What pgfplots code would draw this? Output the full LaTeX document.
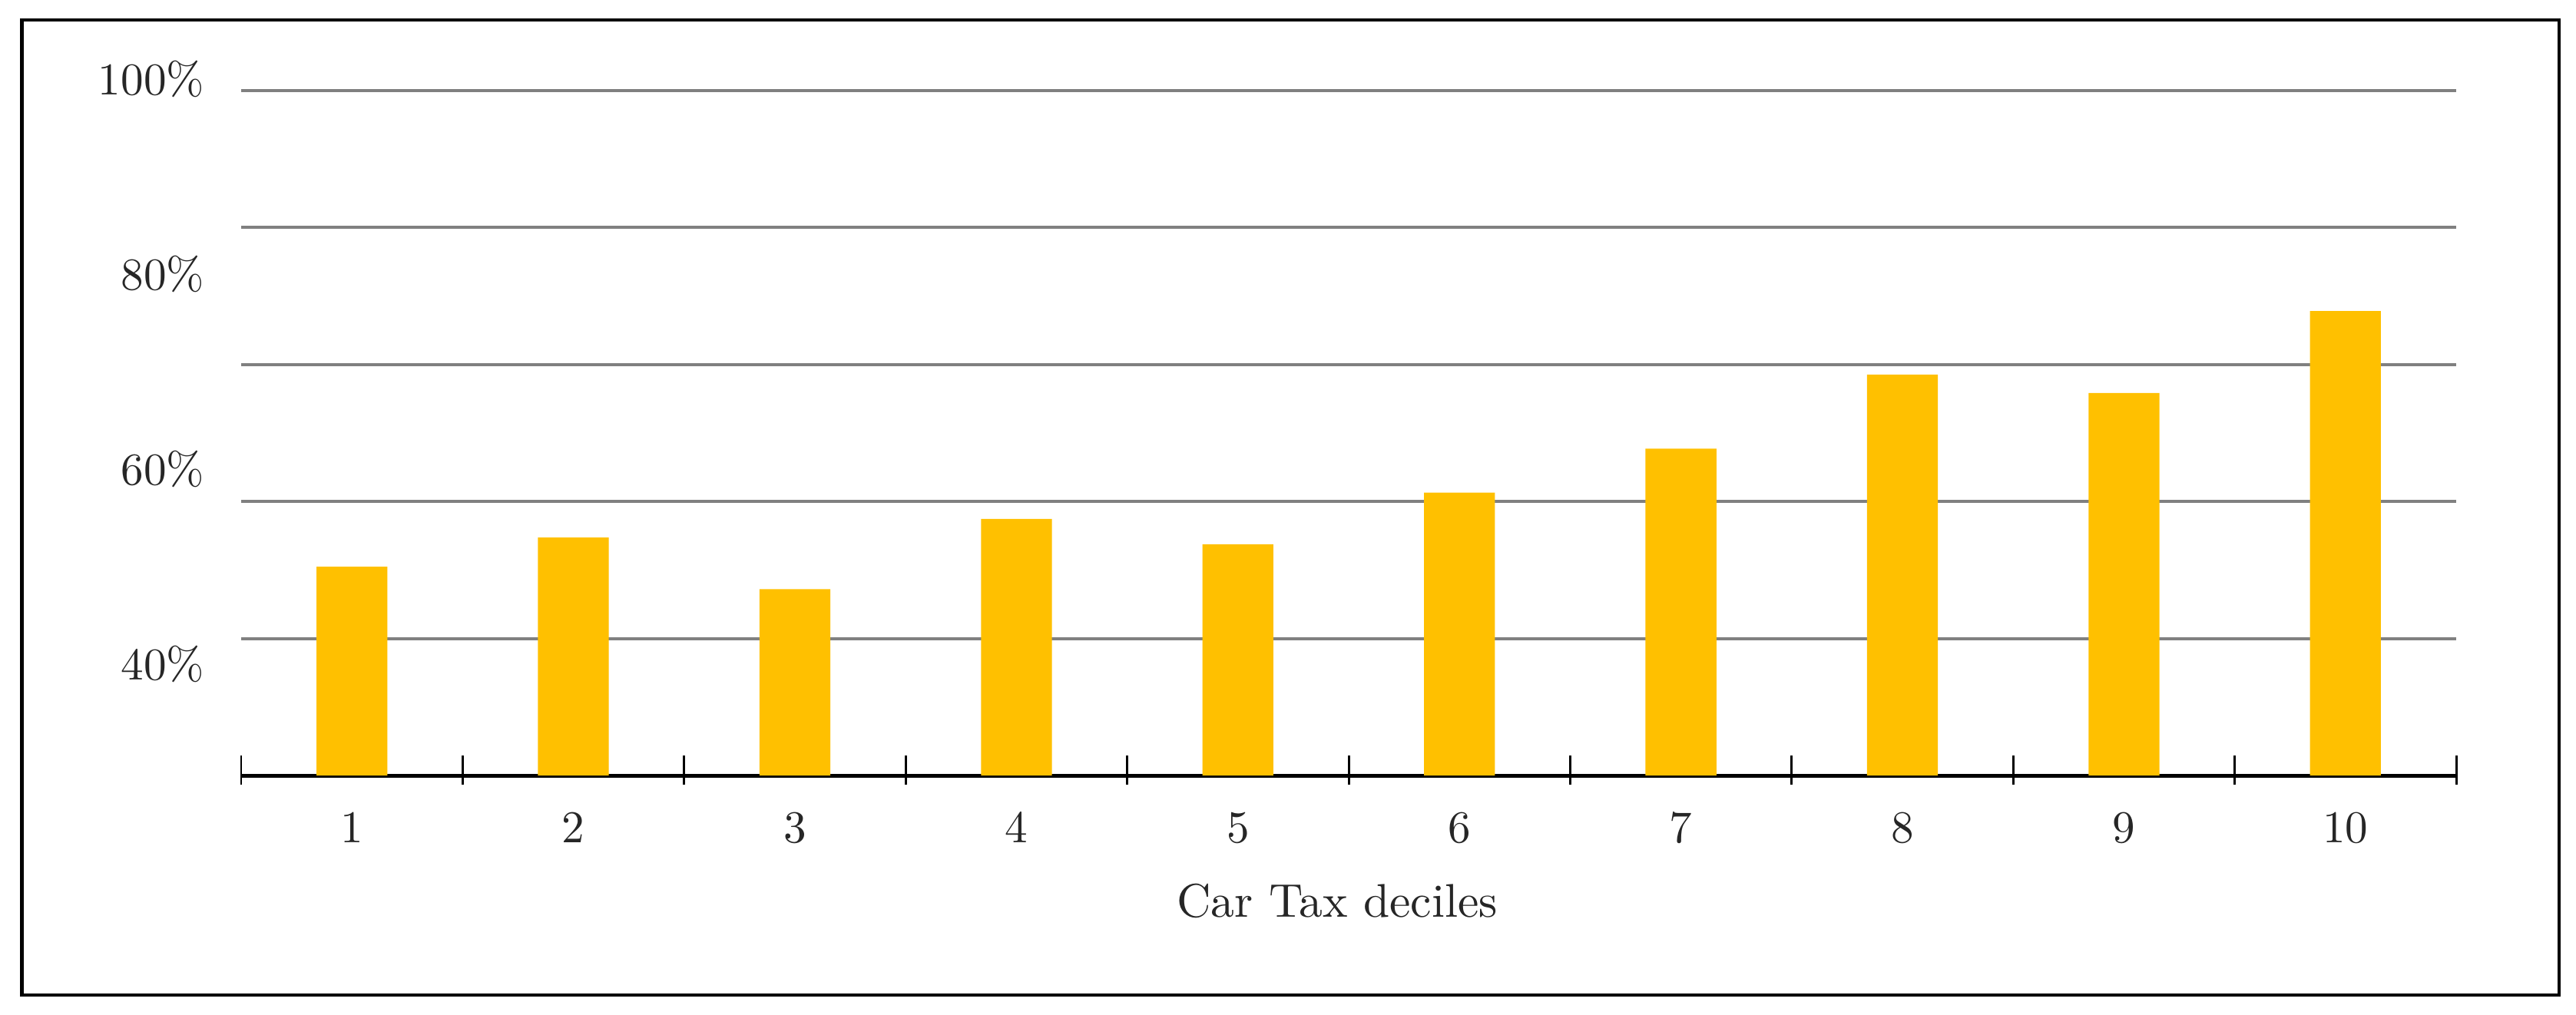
\documentclass[border=0pt]{standalone}
\usepackage{pgfplots}
\pgfplotsset{compat=1.18}
\definecolor{bargold}{RGB}{255,192,0}
\definecolor{gridgray}{RGB}{128,128,128}
\definecolor{txt}{RGB}{38,38,38}
\begin{document}
\begin{tikzpicture}
  % page size: 3354 x 1321 px at 0.169 pt per px
  \useasboundingbox (-53.08pt,-52.58pt) rectangle (513.92pt,170.74pt);
  \draw[line width=0.8pt] (-48.2pt,-48.35pt) rectangle (510.2pt,166.35pt);
  \begin{axis}[
      at={(0,0)}, anchor=south west,
      scale only axis,
      width=487.55pt, height=153.36pt,
      ybar, bar width=0.32,
      xmin=0.5, xmax=10.5,
      ymin=28.6, ymax=100,
      axis lines*=left,
      y axis line style={draw=none},
      x axis line style={line width=0.85pt, black},
      xtick={1,...,10},
      minor xtick={0.5,1.5,...,10.5},
      major tick length=0pt,
      minor tick length=6.42pt,
      tick align=center,
      minor x tick style={line width=0.5pt, black, yshift=1.18pt},
      xticklabel style={anchor=center, yshift=-11.5pt, text=txt},
      ytick={40,60,80,100},
      yticklabels={40\%,60\%,80\%,100\%},
      yticklabel style={anchor=east, xshift=-4.6pt, text=txt},
      extra y ticks={42.64,56.68,70.72,84.76,98.8},
      extra y tick labels={},
      extra y tick style={grid=major, major grid style={gridgray, line width=0.68pt}},
      xlabel={Car Tax deciles},
      xlabel style={at={(axis description cs:0.5,0)}, anchor=center,
        xshift=-2.5pt, yshift=-27.7pt, font=\fontsize{10.4}{12}\selectfont, text=txt},
    ]
    \addplot[fill=bargold, draw=none] coordinates {
      (1, 50.0)
      (2, 53.0)
      (3, 47.7)
      (4, 54.9)
      (5, 52.3)
      (6, 57.6)
      (7, 62.1)
      (8, 69.7)
      (9, 67.8)
      (10, 76.2)
    };
  \end{axis}
\end{tikzpicture}
\end{document}
